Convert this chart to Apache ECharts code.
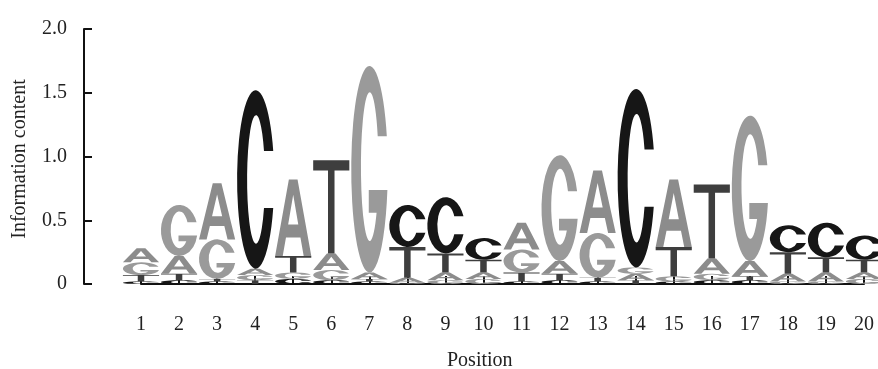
<!DOCTYPE html>
<html>
<head>
<meta charset="utf-8">
<script src="https://cdn.jsdelivr.net/npm/echarts@6/dist/echarts.min.js"></script>
<style>
html,body{margin:0;padding:0;background:#fff;}
#chart{width:878px;height:369px;}
</style>
</head>
<body>
<div id="chart"></div>
<script>
// Sequence logo data: information content (bits) per nucleotide at each position
const positions = [1, 2, 3, 4, 5, 6, 7, 8, 9, 10, 11, 12, 13, 14, 15, 16, 17, 18, 19, 20];
const heightA = [0.11, 0.14, 0.44, 0.05, 0.60, 0.13, 0.05, 0.04, 0.06, 0.05, 0.21, 0.10, 0.49, 0.05, 0.53, 0.12, 0.12, 0.06, 0.07, 0.05];
const heightC = [0.02, 0.03, 0.02, 1.40, 0.04, 0.03, 0.02, 0.33, 0.44, 0.17, 0.02, 0.03, 0.02, 1.40, 0.02, 0.03, 0.03, 0.21, 0.27, 0.19];
const heightG = [0.10, 0.40, 0.31, 0.04, 0.05, 0.08, 1.62, 0.01, 0.03, 0.04, 0.18, 0.83, 0.35, 0.05, 0.04, 0.05, 1.14, 0.02, 0.02, 0.04];
const heightT = [0.05, 0.05, 0.02, 0.03, 0.13, 0.73, 0.02, 0.24, 0.15, 0.10, 0.07, 0.05, 0.03, 0.03, 0.23, 0.58, 0.03, 0.17, 0.12, 0.10];
const yTickLabels = ['0', '0.5', '1.0', '1.5', '2.0'];
const xName = 'Position';
const yName = 'Information content';

const PATHS = {
  A: 'M0 100 L38 0 L62 0 L100 100 L79 100 L70 76 L30 76 L21 100 Z M36 59 L64 59 L50 20 Z',
  C: 'M97.4 34 A50 50 0 1 0 97.4 66 L72.5 66 A24 36 0 1 1 72.5 34 Z',
  G: 'M97.4 34 A50 50 0 1 0 99 60 L48 60 L48 71 L69.4 71 A24 36 0 1 1 72.5 34 Z',
  T: 'M0 0 L100 0 L100 11 L59 11 L59 100 L41 100 L41 11 L0 11 Z'
};
const COLORS = { A: '#8c8c8c', C: '#161616', G: '#9a9a9a', T: '#3e3e3e' };

const data = positions.map((p, i) => [p, heightA[i], heightC[i], heightG[i], heightT[i]]);

const chart = echarts.init(document.getElementById('chart'), null, { renderer: 'canvas' });
const FONT = '"Liberation Serif", "DejaVu Serif", serif';

chart.setOption({
  animation: false,
  backgroundColor: '#ffffff',
  grid: { left: 141, right: 14, top: 29, bottom: 85 },
  xAxis: {
    type: 'value', min: 1, max: 20, interval: 1, offset: 12,
    axisLine: { show: true, lineStyle: { color: '#111', width: 2 } },
    axisTick: { show: true, inside: true, length: 8, lineStyle: { color: '#111', width: 2 } },
    axisLabel: { margin: 19, fontFamily: FONT, fontSize: 20, color: '#222' },
    splitLine: { show: false }
  },
  yAxis: {
    type: 'value', min: 0, max: 2, interval: 0.5, offset: 57,
    axisLine: { show: true, lineStyle: { color: '#111', width: 2 } },
    axisTick: { show: true, inside: true, length: 8, lineStyle: { color: '#111', width: 2 } },
    axisLabel: {
      margin: 17, fontFamily: FONT, fontSize: 20, color: '#222',
      formatter: v => yTickLabels[Math.round(v / 0.5)]
    },
    splitLine: { show: false }
  },
  graphic: [
    { type: 'text', left: 447, top: 351, style: { text: xName, font: '20px ' + FONT, fill: '#222' } },
    { type: 'text', x: 20, y: 159, rotation: Math.PI / 2,
      style: { text: yName, font: '20px ' + FONT, fill: '#222', align: 'center', verticalAlign: 'middle' } }
  ],
  series: [{
    type: 'custom',
    data: data,
    encode: { x: 0, y: 1 },
    renderItem: function (params, api) {
      const x = api.value(0);
      const letters = [['A', api.value(1)], ['C', api.value(2)], ['G', api.value(3)], ['T', api.value(4)]]
        .sort((a, b) => a[1] - b[1]);
      let cum = 0;
      const half = 0.475;
      const children = [];
      letters.forEach(([L, h]) => {
        const p0 = api.coord([x - half, cum + h]);
        const p1 = api.coord([x + half, cum]);
        children.push({
          type: 'path',
          shape: { pathData: PATHS[L], x: p0[0], y: p0[1], width: p1[0] - p0[0], height: p1[1] - p0[1], layout: 'cover' },
          style: { fill: COLORS[L] }
        });
        cum += h;
      });
      return { type: 'group', children: children };
    }
  }]
});
</script>
</body>
</html>
